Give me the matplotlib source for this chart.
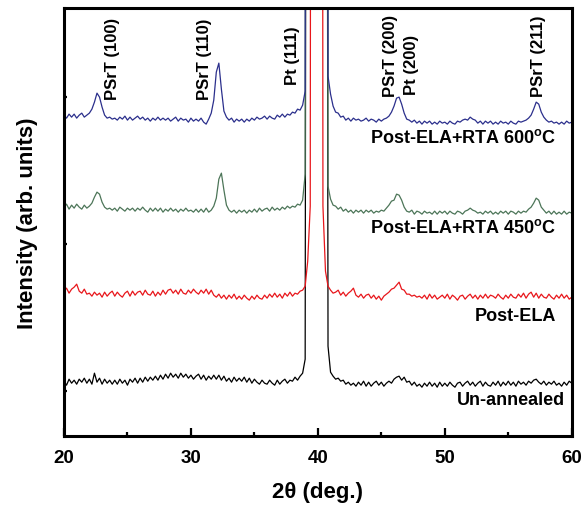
import numpy as np
import matplotlib
matplotlib.use("Agg")
import matplotlib.pyplot as plt
from matplotlib.ticker import MultipleLocator

plt.rcParams['font.family'] = ['Liberation Sans', 'DejaVu Sans']
plt.rcParams['font.weight'] = 'bold'
plt.rcParams['mathtext.fontset'] = 'custom'
plt.rcParams['mathtext.rm'] = 'Liberation Sans:bold'
plt.rcParams['mathtext.default'] = 'regular'

# 2theta scan, 0.2 deg step
two_theta = np.linspace(20, 60, 201)

# intensities (arb. units, curves already offset)
unannealed = [
    55, 51, 57, 53, 56, 52, 57, 54, 58, 53,
    57, 52, 63, 54, 58, 52, 57, 53, 56, 52,
    56, 52, 57, 53, 56, 51, 57, 54, 58, 53,
    58, 54, 59, 55, 59, 56, 60, 56, 61, 57,
    62, 58, 63, 59, 62, 58, 63, 59, 62, 58,
    61, 57, 60, 62, 57, 61, 56, 60, 57, 61,
    57, 61, 56, 60, 55, 58, 54, 59, 55, 58,
    55, 59, 54, 58, 53, 57, 54, 52, 56, 53,
    52, 56, 53, 51, 56, 52, 55, 57, 53, 56,
    55, 59, 56, 60, 63, 77, 2000, 2000, 2000, 2000,
    2000, 2000, 2000, 2000, 90, 64, 60, 57, 58, 55,
    56, 52, 54, 51, 53, 50, 54, 51, 55, 50,
    54, 50, 53, 55, 51, 54, 50, 53, 55, 53,
    57, 59, 60, 56, 59, 54, 55, 51, 54, 50,
    52, 49, 53, 50, 54, 50, 53, 49, 54, 50,
    53, 50, 54, 51, 49, 53, 54, 50, 53, 55,
    51, 54, 50, 53, 55, 50, 54, 51, 50, 54,
    51, 55, 50, 54, 51, 55, 51, 54, 50, 55,
    52, 54, 51, 55, 53, 56, 57, 54, 52, 55,
    51, 54, 52, 55, 51, 53, 50, 54, 51, 55,
    53]

post_ela = [
    145, 148, 143, 147, 149, 152, 145, 143, 147, 142,
    143, 140, 144, 141, 143, 139, 144, 140, 143, 145,
    140, 144, 141, 139, 143, 145, 140, 145, 141, 144,
    145, 141, 146, 142, 141, 145, 140, 144, 141, 146,
    142, 146, 147, 143, 146, 142, 147, 143, 142, 146,
    143, 147, 144, 142, 146, 143, 147, 142, 146, 141,
    139, 142, 138, 141, 137, 141, 138, 142, 137, 140,
    137, 141, 138, 136, 140, 137, 141, 138, 137, 141,
    138, 142, 139, 143, 139, 142, 138, 143, 140, 144,
    140, 143, 142, 145, 146, 150, 175, 230, 3000, 3000,
    3000, 3000, 230, 165, 150, 146, 143, 144, 146, 141,
    144, 140, 143, 145, 148, 141, 139, 142, 138, 141,
    142, 138, 141, 137, 140, 136, 140, 142, 144, 147,
    148, 151, 154, 147, 146, 142, 142, 140, 141, 139,
    140, 138, 141, 137, 142, 138, 141, 137, 139, 141,
    138, 142, 137, 141, 139, 136, 140, 141, 137, 140,
    142, 138, 141, 137, 141, 138, 142, 138, 141, 140,
    138, 142, 139, 137, 141, 138, 142, 139, 138, 142,
    139, 143, 138, 142, 144, 139, 143, 138, 142, 139,
    138, 142, 139, 137, 141, 138, 142, 138, 141, 137,
    139]

rta_450 = [
    229, 232, 227, 231, 228, 232, 229, 227, 231, 228,
    230, 233, 239, 244, 242, 234, 229, 227, 228, 226,
    228, 225, 229, 227, 225, 228, 226, 228, 225, 228,
    226, 229, 226, 224, 228, 225, 228, 225, 228, 224,
    227, 225, 228, 225, 227, 224, 227, 225, 228, 225,
    226, 224, 227, 224, 227, 224, 228, 224, 226, 230,
    238, 257, 263, 246, 231, 226, 224, 226, 223, 226,
    224, 226, 223, 226, 224, 227, 224, 228, 225, 227,
    228, 225, 229, 226, 228, 226, 229, 227, 230, 228,
    230, 229, 232, 231, 236, 262, 3000, 3000, 3000, 3000,
    3000, 3000, 3000, 3000, 250, 237, 231, 230, 227, 229,
    225, 227, 224, 226, 223, 226, 224, 226, 223, 226,
    224, 226, 223, 225, 224, 226, 225, 228, 231, 235,
    236, 242, 241, 236, 229, 225, 224, 226, 222, 225,
    224, 222, 225, 223, 224, 222, 225, 222, 225, 223,
    225, 222, 225, 223, 222, 225, 224, 222, 225, 226,
    228, 226, 225, 223, 224, 222, 225, 223, 225, 222,
    224, 222, 225, 223, 225, 222, 225, 224, 222, 225,
    223, 225, 224, 227, 229, 233, 238, 236, 229, 226,
    223, 225, 222, 225, 222, 224, 222, 225, 222, 224,
    223]

rta_600 = [
    321, 318, 322, 319, 322, 318, 321, 323, 319, 321,
    323, 327, 334, 343, 339, 329, 321, 318, 319, 317,
    318, 316, 319, 317, 320, 316, 319, 316, 318, 320,
    317, 319, 316, 318, 315, 318, 316, 319, 316, 318,
    316, 318, 315, 317, 319, 315, 318, 316, 317, 314,
    318, 315, 317, 315, 318, 314, 312, 317, 323, 336,
    364, 373, 347, 325, 319, 316, 318, 314, 317, 315,
    317, 314, 317, 315, 318, 316, 319, 317, 318, 320,
    317, 320, 318, 317, 321, 319, 322, 319, 322, 321,
    324, 323, 327, 326, 331, 345, 3000, 3000, 3000, 3000,
    3000, 3000, 3000, 3000, 360, 342, 330, 324, 323, 319,
    320, 316, 318, 315, 318, 316, 317, 315, 316, 318,
    315, 317, 316, 314, 317, 315, 317, 318, 320, 324,
    330, 338, 339, 332, 323, 317, 316, 314, 316, 313,
    315, 312, 315, 313, 315, 312, 314, 312, 315, 313,
    314, 312, 315, 313, 312, 315, 314, 316, 317, 316,
    319, 317, 316, 313, 315, 312, 315, 313, 315, 312,
    314, 312, 315, 313, 314, 312, 315, 313, 312, 315,
    314, 315, 316, 318, 321, 327, 334, 332, 324, 319,
    316, 314, 315, 313, 314, 312, 314, 312, 315, 313,
    314]

series = [unannealed, post_ela, rta_450, rta_600]
colors = ['black', '#e8161b', '#4c7558', '#2b2f8c']
names = ['Un-annealed', 'Post-ELA',
         r'Post-ELA+RTA 450$^{\mathregular{o}}$C',
         r'Post-ELA+RTA 600$^{\mathregular{o}}$C']
name_x = [59.5, 58.8, 58.8, 58.8]
name_y = [37, 121, 209, 299]

peak_labels = ['PSrT (100)', 'PSrT (110)', 'Pt (111)', 'PSrT (200)', 'Pt (200)', 'PSrT (211)']
peak_x = [23.8, 31.1, 38.0, 45.7, 47.4, 57.4]
peak_y = [337, 337, 352, 340, 342, 340]

fig = plt.figure(figsize=(5.87, 5.06), dpi=100)
ax = fig.add_axes([0.109, 0.136, 0.865, 0.846])

for ys, c in zip(series, colors):
    ax.plot(two_theta, ys, color=c, linewidth=0.9)

for nm, xx, yy in zip(names, name_x, name_y):
    ax.text(xx, yy, nm, ha='right', va='center', fontsize=13, fontweight='bold')

for lb, xx, yy in zip(peak_labels, peak_x, peak_y):
    ax.text(xx, yy, lb, rotation=90, ha='center', va='bottom', fontsize=12, fontweight='bold')

ax.set_xlim(20, 60)
ax.set_ylim(0, 428)
ax.xaxis.set_major_locator(MultipleLocator(10))
ax.xaxis.set_minor_locator(MultipleLocator(5))
ax.set_yticks([45, 192, 339])
ax.set_yticklabels([])
ax.tick_params(axis='both', which='major', direction='in', length=6, width=1.6, labelsize=13.5, pad=9)
ax.tick_params(axis='both', which='minor', direction='in', length=3, width=1.6)
ax.tick_params(axis='y', length=2.5)
for sp in ax.spines.values():
    sp.set_linewidth(2.2)

ax.set_xlabel(r'2θ (deg.)', fontsize=16, fontweight='bold', labelpad=11)
ax.set_ylabel('Intensity (arb. units)', fontsize=16, fontweight='bold', labelpad=10)

plt.savefig('out.png', dpi=100)
